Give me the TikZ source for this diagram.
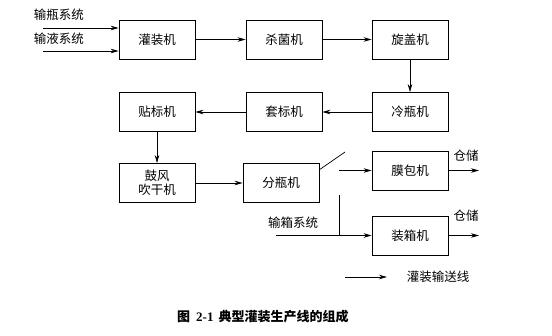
\documentclass[tikz,border=0pt]{standalone}
\usepackage{fontspec}
\setmainfont{Liberation Serif}
\newfontfamily\cjk{Noto Sans CJK SC}
\usetikzlibrary{arrows.meta,calc}
\begin{document}
\begin{tikzpicture}[x=1pt, y=-1pt, >={Stealth[length=8pt,width=4.5pt]},
		font=\cjk\fontsize{12.5}{15}\selectfont,
		machine/.style={draw, line width=0.8pt, minimum width=76pt, minimum height=39pt, inner sep=1pt, align=center},
		flow/.style={->, line width=0.7pt}]
	\useasboundingbox (0,0) rectangle (552,335);
	% machines
	\node[machine] (fill)     at (157,39.5)  {灌装机};
	\node[machine] (steril)   at (284,39.5)  {杀菌机};
	\node[machine] (capper)   at (410,39.5)  {旋盖机};
	\node[machine] (cooler)   at (410,112)   {冷瓶机};
	\node[machine] (sleeve)   at (284,112)   {套标机};
	\node[machine] (labeler)  at (157,112)   {贴标机};
	\node[machine] (dryer)    at (157,183)   {鼓风\\[-1pt]吹干机};
	\node[machine] (splitter) at (281,183)   {分瓶机};
	\node[machine] (film)     at (410,170.5) {膜包机};
	\node[machine] (caser)    at (410,235.5) {装箱机};
	% inputs
	\coordinate (bottleIn) at (43,28);
	\coordinate (liquidIn) at (43,51);
	\node (bottleTxt) at (59,15) {输瓶系统};
	\node (liquidTxt) at (59,39) {输液系统};
	\draw[flow] (bottleIn) -- (bottleIn -| fill.west);
	\draw[flow] (liquidIn) -- (liquidIn -| fill.west);
	% main line
	\draw[flow] (fill) -- (steril);
	\draw[flow] (steril) -- (capper);
	\draw[flow] (capper) -- (cooler);
	\draw[flow] (cooler) -- (sleeve);
	\draw[flow] (sleeve) -- (labeler);
	\draw[flow] (labeler) -- (dryer);
	\draw[flow] (dryer) -- (splitter);
	% switch after splitter
	\coordinate (swA) at (319,170);
	\coordinate (swB) at (345,152);
	\coordinate (jTop) at (339,170.5);
	\coordinate (jMid) at (339,195);
	\coordinate (jLow) at (339,235.5);
	\coordinate (caseIn) at (276,235.5);
	\draw[line width=0.7pt] (swA) -- (swB);
	\draw[flow] (jTop) -- (film.west);
	\draw[line width=0.7pt] (jMid) -- (jLow);
	\draw[flow] (caseIn) -- (caser.west);
	\node (caseTxt) at (293,223) {输箱系统};
	% storage
	\coordinate (store1) at (479,170.5);
	\coordinate (store2) at (479,235.5);
	\draw[flow] (film.east) -- (store1);
	\draw[flow] (caser.east) -- (store2);
	\node (store1Txt) at (466,156) {仓储};
	\node (store2Txt) at (466,216) {仓储};
	% legend
	\coordinate (legA) at (345,277);
	\coordinate (legB) at (387,277);
	\draw[flow] (legA) -- (legB);
	\node (legTxt) at (438,277) {灌装输送线};
	% caption
	\node[anchor=west, inner sep=0pt, font=\cjk\bfseries\fontsize{13}{15}\selectfont] (caption) at (177,317)
		{图\hspace{6pt}{\rmfamily 2-1}\hspace{5pt}典型灌装生产线的组成};
\end{tikzpicture}
\end{document}
